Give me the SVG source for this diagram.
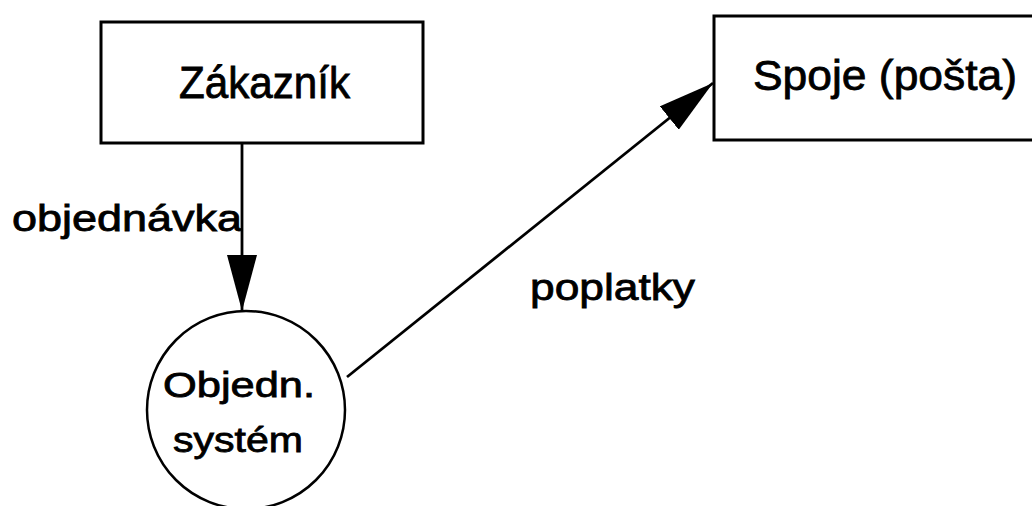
<svg xmlns="http://www.w3.org/2000/svg" width="1032" height="506" viewBox="0 0 1032 506">
  <style>
    .box { fill: #fff; stroke: #000; stroke-width: 3; }
    .proc { fill: #fff; stroke: #000; stroke-width: 2.5; }
    .lbl { font-family: "Liberation Sans", Arial, sans-serif; fill: #000; stroke: #000; stroke-width: 0.8; }
    .flow { fill: none; stroke: #000; stroke-width: 2.8; }
  </style>
  <defs>
    <marker id="arrow" viewBox="0 0 56 30" refX="56" refY="15" markerWidth="56" markerHeight="30" markerUnits="userSpaceOnUse" orient="auto">
      <path d="M0,0 L56,15 L0,30 z" fill="#000"/>
    </marker>
  </defs>
  <rect width="1032" height="506" fill="#fff"/>
  <g id="connectors">
    <line class="flow" x1="242" y1="143" x2="242" y2="311" marker-end="url(#arrow)"/>
    <line class="flow" x1="347" y1="377" x2="713" y2="83" marker-end="url(#arrow)"/>
    <text class="lbl" x="12" y="231" font-size="36" textLength="230" lengthAdjust="spacingAndGlyphs">objednávka</text>
    <text class="lbl" x="530" y="300" font-size="37" textLength="165" lengthAdjust="spacingAndGlyphs">poplatky</text>
  </g>
  <g id="zakaznik">
    <rect class="box" x="101" y="22" width="322" height="121"/>
    <text class="lbl" x="179" y="98" font-size="44" textLength="171" lengthAdjust="spacingAndGlyphs">Zákazník</text>
  </g>
  <g id="spoje">
    <rect class="box" x="714" y="16" width="330" height="124"/>
    <text class="lbl" x="753" y="90" font-size="43" textLength="264" lengthAdjust="spacingAndGlyphs">Spoje (pošta)</text>
  </g>
  <g id="objedn-system">
    <circle class="proc" cx="246" cy="410" r="99"/>
    <text class="lbl" x="163" y="397" font-size="35" textLength="152" lengthAdjust="spacingAndGlyphs">Objedn.</text>
    <text class="lbl" x="173" y="452" font-size="35" textLength="130" lengthAdjust="spacingAndGlyphs">systém</text>
  </g>
</svg>
